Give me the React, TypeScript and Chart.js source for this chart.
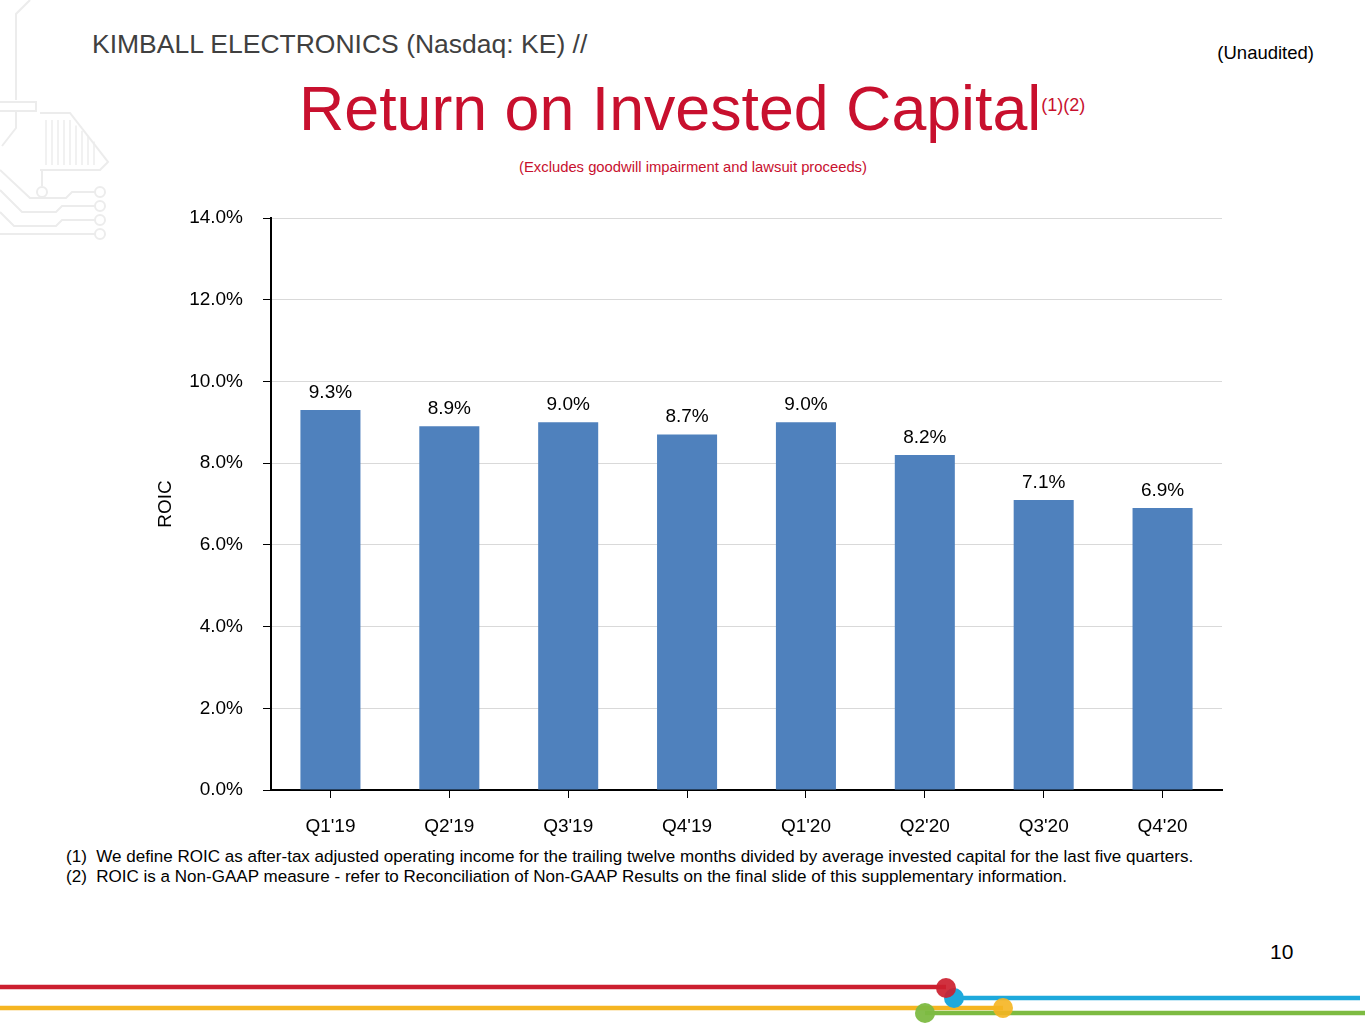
import { useEffect, useRef } from 'react';
import { Chart, registerables } from 'chart.js';

Chart.register(...registerables);

const quarters = ["Q1'19", "Q2'19", "Q3'19", "Q4'19", "Q1'20", "Q2'20", "Q3'20", "Q4'20"];
const roicValues = [9.3, 8.9, 9.0, 8.7, 9.0, 8.2, 7.1, 6.9];
const yTicks = [0, 2, 4, 6, 8, 10, 12, 14];

const FONT = "'Liberation Sans', Arial, sans-serif";
const RED = '#c8102e';

// value labels above bars
const barLabels = {
  id: 'barLabels',
  afterDatasetsDraw(chart: Chart) {
    const ctx = chart.ctx;
    const meta = chart.getDatasetMeta(0);
    ctx.save();
    ctx.font = `19px ${FONT}`;
    ctx.fillStyle = '#000';
    ctx.textAlign = 'center';
    ctx.textBaseline = 'bottom';
    meta.data.forEach((bar: any, i: number) => {
      ctx.fillText(roicValues[i].toFixed(1) + '%', bar.x, bar.y - 8);
    });
    ctx.restore();
  },
};

function RoicChart() {
  const canvasRef = useRef<HTMLCanvasElement>(null);
  const chartRef = useRef<Chart | null>(null);

  useEffect(() => {
    if (!canvasRef.current) return;
    if (chartRef.current) chartRef.current.destroy();

    chartRef.current = new Chart(canvasRef.current, {
      type: 'bar',
      data: {
        labels: quarters,
        datasets: [{
          label: 'ROIC',
          data: roicValues,
          backgroundColor: '#4f81bd',
          barPercentage: 0.505,
          categoryPercentage: 1.0,
        }],
      },
      options: {
        responsive: true,
        maintainAspectRatio: false,
        animation: false,
        layout: { padding: { top: 13, right: 13, left: 0, bottom: 0 } },
        plugins: {
          legend: { display: false },
          tooltip: { enabled: false },
        },
        scales: {
          x: {
            afterFit: (scale: any) => { scale.height = 55; },
            grid: {
              offset: false,
              drawOnChartArea: false,
              tickLength: 8,
              tickColor: '#000',
            },
            border: { color: '#000', width: 2 },
            ticks: { color: '#000', font: { family: FONT, size: 19 }, padding: 17, maxRotation: 0 },
          },
          y: {
            min: 0,
            max: 14,
            afterFit: (scale: any) => {
              scale.width = 121;
              scale.paddingTop = 0;
              scale.paddingBottom = 0;
            },
            afterBuildTicks: (scale: any) => { scale.ticks = yTicks.map(v => ({ value: v })); },
            grid: { color: '#d9d9d9', tickColor: '#000', tickLength: 8 },
            border: { color: '#000', width: 2 },
            ticks: {
              color: '#000',
              padding: 20,
              font: { family: FONT, size: 19 },
              callback: (v: any) => Number(v).toFixed(1) + '%',
            },
            title: {
              display: true,
              text: 'ROIC',
              color: '#000',
              font: { family: FONT, size: 19 },
              padding: { top: 4, bottom: 0 },
            },
          },
        },
      },
      plugins: [barLabels],
    });

    return () => {
      if (chartRef.current) {
        chartRef.current.destroy();
        chartRef.current = null;
      }
    };
  }, []);

  return (
    <div style={{ position: 'absolute', left: 150, top: 205, width: 1085, height: 640 }}>
      <canvas ref={canvasRef} />
    </div>
  );
}

function CircuitArt() {
  const c = '#ececec';
  return (
    <svg width={130} height={250} style={{ position: 'absolute', left: 0, top: 0 }}>
      <g fill="none" stroke={c} strokeWidth={2}>
        <path d="M30 0 L16 14 L16 100" />
        <path d="M0 102 L36 102 L36 111 L0 111" />
        <path d="M16 111 L16 128 L2 146" />
        <path d="M40 113 L70 113 L108 162 L100 170 L40 170" />
        <path d="M42 170 L42 186" />
        <circle cx={42} cy={192} r={5} />
        <circle cx={100} cy={192} r={5} />
        <circle cx={100} cy={206} r={5} />
        <circle cx={100} cy={220} r={5} />
        <circle cx={100} cy={234} r={5} />
        <path d="M95 192 L72 192 L66 198 L30 198 L0 170" />
        <path d="M95 206 L62 206 L56 212 L22 212 L0 190" />
        <path d="M95 220 L62 220 L56 226 L14 226 L0 212" />
        <path d="M95 234 L0 234" />
      </g>
      <g stroke={c} strokeWidth={1.5}>
        {[46, 52, 58, 64, 70, 76, 82, 88, 94].map((x, i) => (
          <line key={i} x1={x} y1={120 + Math.max(0, x - 70) * 0.9} x2={x} y2={165} />
        ))}
      </g>
    </svg>
  );
}

function BottomLines() {
  // svg origin at y = 970
  return (
    <svg width={1365} height={54} style={{ position: 'absolute', left: 0, top: 970 }}>
      <line x1={0} y1={17} x2={946} y2={17} stroke="#cc1f2f" strokeWidth={4.5} />
      <line x1={0} y1={38} x2={1003} y2={38} stroke="#f5b521" strokeWidth={4.5} />
      <line x1={954} y1={28} x2={1360} y2={28} stroke="#1ea9dc" strokeWidth={4.5} />
      <line x1={925} y1={43} x2={1365} y2={43} stroke="#7dbb42" strokeWidth={4.5} />
      <circle cx={954} cy={28} r={10} fill="#1ea9dc" />
      <circle cx={1003} cy={38} r={10} fill="#f5b521" opacity={0.9} />
      <circle cx={925} cy={43} r={10} fill="#7dbb42" opacity={0.95} />
      <circle cx={946} cy={18} r={10} fill="#cc1f2f" opacity={0.92} />
    </svg>
  );
}

export default function App() {
  const text = (style: React.CSSProperties, content: React.ReactNode) => (
    <div style={{ position: 'absolute', whiteSpace: 'pre', fontFamily: FONT, lineHeight: 1, ...style }}>{content}</div>
  );

  return (
    <div style={{ position: 'absolute', left: 0, top: 0, width: 1365, height: 1024, overflow: 'hidden', background: '#fff' }}>
      <CircuitArt />
      {text({ left: 92, top: 31, fontSize: 26.5, color: '#404040' }, 'KIMBALL ELECTRONICS (Nasdaq: KE) //')}
      {text({ right: 51, top: 44, fontSize: 18.5, color: '#000' }, '(Unaudited)')}
      {text({ left: 299, top: 77, fontSize: 62.7, color: RED }, (
        <>Return on Invested Capital<span style={{ fontSize: 18, verticalAlign: 'top', position: 'relative', top: 19 }}>(1)(2)</span></>
      ))}
      {text({ left: 0, width: 1386, top: 160, fontSize: 14.8, color: RED, textAlign: 'center' }, '(Excludes goodwill impairment and lawsuit proceeds)')}
      <RoicChart />
      {text({ left: 66, top: 848, fontSize: 17.05, color: '#000' }, '(1)  We define ROIC as after-tax adjusted operating income for the trailing twelve months divided by average invested capital for the last five quarters.')}
      {text({ left: 66, top: 868, fontSize: 17.05, color: '#000' }, '(2)  ROIC is a Non-GAAP measure - refer to Reconciliation of Non-GAAP Results on the final slide of this supplementary information.')}
      {text({ left: 1270, top: 941, fontSize: 21, color: '#000' }, '10')}
      <BottomLines />
    </div>
  );
}
